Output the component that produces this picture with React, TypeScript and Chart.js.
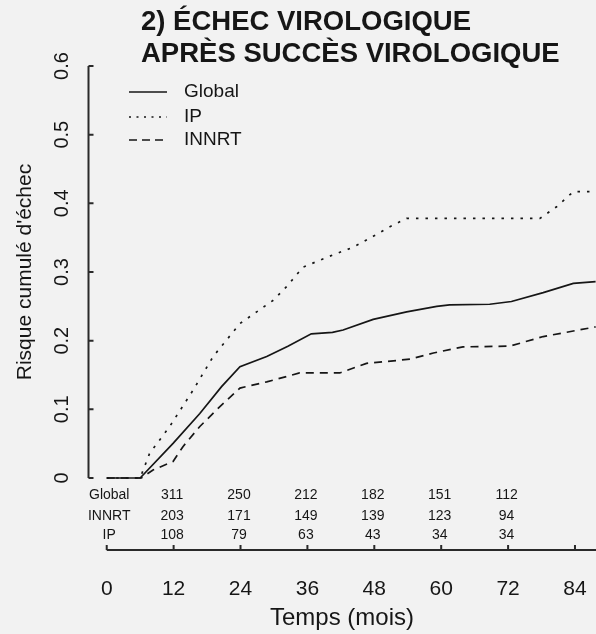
import React, { useEffect, useRef } from "react";
import { Chart, registerables } from "chart.js";

Chart.register(...registerables);

const FONT = '"Liberation Sans", Arial, Helvetica, sans-serif';
const INK = "#161616";

const titleLines = ["2) ÉCHEC VIROLOGIQUE", "APRÈS SUCCÈS VIROLOGIQUE"];
const yAxisTitle = "Risque cumulé d'échec";
const xAxisTitle = "Temps (mois)";
const xTickValues = [0, 12, 24, 36, 48, 60, 72, 84];
const yTickValues = [0, 0.1, 0.2, 0.3, 0.4, 0.5, 0.6];

const seriesNames = ["Global", "IP", "INNRT"];

const globalMonths = [0, 6, 11.9, 16.7, 20.6, 23.9, 28.7, 32.5, 36.7, 40.5, 42.4, 47.8, 53.8, 59.2, 61.5, 68.7, 72.6, 78.3, 83.7, 87.7];
const globalRisk = [0, 0, 0.0505, 0.094, 0.133, 0.162, 0.177, 0.192, 0.21, 0.212, 0.2155, 0.231, 0.242, 0.25, 0.252, 0.253, 0.257, 0.27, 0.2835, 0.286];

const ipMonths = [0, 6, 7.7, 11.3, 15.5, 19.1, 23.9, 26.9, 29.9, 32.3, 35.2, 37.6, 40.6, 44.2, 47.8, 50.8, 53.8, 77.7, 80.7, 83.7, 87.7];
const ipRisk = [0, 0, 0.036, 0.075, 0.128, 0.177, 0.225, 0.242, 0.259, 0.279, 0.307, 0.315, 0.325, 0.336, 0.352, 0.366, 0.378, 0.378, 0.395, 0.417, 0.417];

const innrtMonths = [0, 6.2, 8.3, 11.9, 13.7, 16.7, 20.3, 23.9, 28.7, 34.6, 41.8, 46.6, 54.4, 58.6, 63.9, 72.3, 78.3, 87.7];
const innrtRisk = [0, 0, 0.0117, 0.024, 0.046, 0.075, 0.104, 0.131, 0.14, 0.153, 0.153, 0.167, 0.173, 0.182, 0.191, 0.192, 0.206, 0.22];

const riskTableMonths = [12, 24, 36, 48, 60, 72];
const riskTableRows = ["Global", "INNRT", "IP"];
const atRiskGlobal = [311, 250, 212, 182, 151, 112];
const atRiskINNRT = [203, 171, 149, 139, 123, 94];
const atRiskIP = [108, 79, 63, 43, 34, 34];

const toPoints = (xs: number[], ys: number[]) => xs.map((x, i) => ({ x, y: ys[i] }));

const decorPlugin = {
  id: "decor",
  afterDraw(chart: any) {
    const { ctx, chartArea } = chart;
    const x = chart.scales.x;
    const y = chart.scales.y;
    ctx.save();

    // Y axis line + inward ticks
    const ax = chartArea.left + 0.5;
    ctx.strokeStyle = "#2a2a2a";
    ctx.lineWidth = 2;
    ctx.beginPath();
    ctx.moveTo(ax, y.getPixelForValue(yTickValues[yTickValues.length - 1]));
    ctx.lineTo(ax, y.getPixelForValue(yTickValues[0]));
    yTickValues.forEach((v) => {
      const py = y.getPixelForValue(v);
      ctx.moveTo(ax, py);
      ctx.lineTo(ax + 5, py);
    });
    ctx.stroke();

    // X axis line + inward ticks
    const ay = chartArea.bottom;
    ctx.beginPath();
    ctx.moveTo(x.getPixelForValue(xTickValues[0]), ay);
    ctx.lineTo(chartArea.right, ay);
    xTickValues.forEach((v) => {
      const px = x.getPixelForValue(v);
      ctx.moveTo(px, ay);
      ctx.lineTo(px, ay - 5);
    });
    ctx.stroke();

    // Y axis title
    ctx.fillStyle = INK;
    ctx.save();
    ctx.translate(25, (y.getPixelForValue(0) + y.getPixelForValue(0.6)) / 2);
    ctx.rotate(-Math.PI / 2);
    ctx.font = `21px ${FONT}`;
    ctx.textAlign = "center";
    ctx.textBaseline = "middle";
    ctx.fillText(yAxisTitle, 0, 0);
    ctx.restore();

    // Title
    ctx.font = `bold 27.5px ${FONT}`;
    ctx.textAlign = "left";
    ctx.textBaseline = "alphabetic";
    ctx.fillText(titleLines[0], 141, 30);
    ctx.fillText(titleLines[1], 141, 61.5);

    // Legend
    const legendY = [92, 117, 140];
    chart.data.datasets.forEach((ds: any, i: number) => {
      ctx.beginPath();
      ctx.strokeStyle = INK;
      ctx.lineWidth = ds.borderWidth;
      ctx.setLineDash(i === 1 ? [2, 5.5] : i === 2 ? [8, 5] : []);
      ctx.moveTo(129, legendY[i]);
      ctx.lineTo(167, legendY[i]);
      ctx.stroke();
      ctx.setLineDash([]);
      ctx.font = `19px ${FONT}`;
      ctx.textBaseline = "middle";
      ctx.textAlign = "left";
      ctx.fillText(ds.label, 184, legendY[i]);
    });

    // Number-at-risk table
    const rowY = [495, 516, 535];
    const rowVals = [atRiskGlobal, atRiskINNRT, atRiskIP];
    ctx.font = `14px ${FONT}`;
    ctx.textAlign = "center";
    ctx.textBaseline = "middle";
    riskTableRows.forEach((name, r) => {
      ctx.fillText(name, x.getPixelForValue(0) + 2.5, rowY[r]);
      riskTableMonths.forEach((m, c) => {
        ctx.fillText(String(rowVals[r][c]), x.getPixelForValue(m) - 1.5, rowY[r]);
      });
    });

    ctx.restore();
  },
};

export default function App() {
  const canvasRef = useRef<HTMLCanvasElement | null>(null);

  useEffect(() => {
    const canvas = canvasRef.current;
    if (!canvas) return;
    const chart = new Chart(canvas, {
      type: "line",
      data: {
        datasets: [
          {
            label: seriesNames[0],
            data: toPoints(globalMonths, globalRisk),
            borderColor: INK,
            borderWidth: 1.7,
            pointRadius: 0,
            tension: 0,
            fill: false,
          },
          {
            label: seriesNames[1],
            data: toPoints(ipMonths, ipRisk),
            borderColor: INK,
            borderWidth: 1.7,
            borderDash: [2.5, 7],
            pointRadius: 0,
            tension: 0,
            fill: false,
          },
          {
            label: seriesNames[2],
            data: toPoints(innrtMonths, innrtRisk),
            borderColor: INK,
            borderWidth: 1.7,
            borderDash: [8, 6],
            pointRadius: 0,
            tension: 0,
            fill: false,
          },
        ],
      },
      options: {
        animation: false,
        responsive: false,
        devicePixelRatio: 1,
        layout: { padding: { top: 66, left: 0, right: 0, bottom: 0 } },
        plugins: {
          legend: { display: false },
          title: { display: false },
          tooltip: { enabled: false },
        },
        scales: {
          x: {
            type: "linear",
            min: -3.36,
            max: 87.77,
            afterFit: (s: any) => {
              s.height = 84;
              s.paddingLeft = 0;
              s.paddingRight = 0;
            },
            afterBuildTicks: (s: any) => {
              s.ticks = xTickValues.map((v) => ({ value: v }));
            },
            grid: { display: false, drawTicks: false },
            border: { display: false },
            ticks: {
              color: INK,
              font: { family: FONT, size: 21 },
              padding: 27,
              maxRotation: 0,
              minRotation: 0,
              autoSkip: false,
              callback: (v: any) => String(v),
            },
            title: {
              display: true,
              text: xAxisTitle,
              color: INK,
              font: { family: FONT, size: 24 },
              padding: { top: 0, bottom: 1 },
            },
          },
          y: {
            type: "linear",
            min: -0.10485,
            max: 0.6,
            afterFit: (s: any) => {
              s.width = 88;
              s.paddingTop = 0;
              s.paddingBottom = 0;
            },
            afterBuildTicks: (s: any) => {
              s.ticks = yTickValues.map((v) => ({ value: v }));
            },
            grid: { display: false, drawTicks: false },
            border: { display: false },
            ticks: {
              color: INK,
              font: { family: FONT, size: 20 },
              padding: 12,
              minRotation: 90,
              maxRotation: 90,
              crossAlign: "center",
              autoSkip: false,
              callback: (v: any) => (Number(v) === 0 ? "0" : Number(v).toFixed(1)),
            },
          },
        },
      },
      plugins: [decorPlugin],
    } as any);
    return () => chart.destroy();
  }, []);

  return (
    <div
      style={{
        position: "fixed",
        left: 0,
        top: 0,
        width: 596,
        height: 634,
        background: "#f2f2f2",
      }}
    >
      <canvas ref={canvasRef} width={596} height={634} style={{ display: "block" }} />
    </div>
  );
}
